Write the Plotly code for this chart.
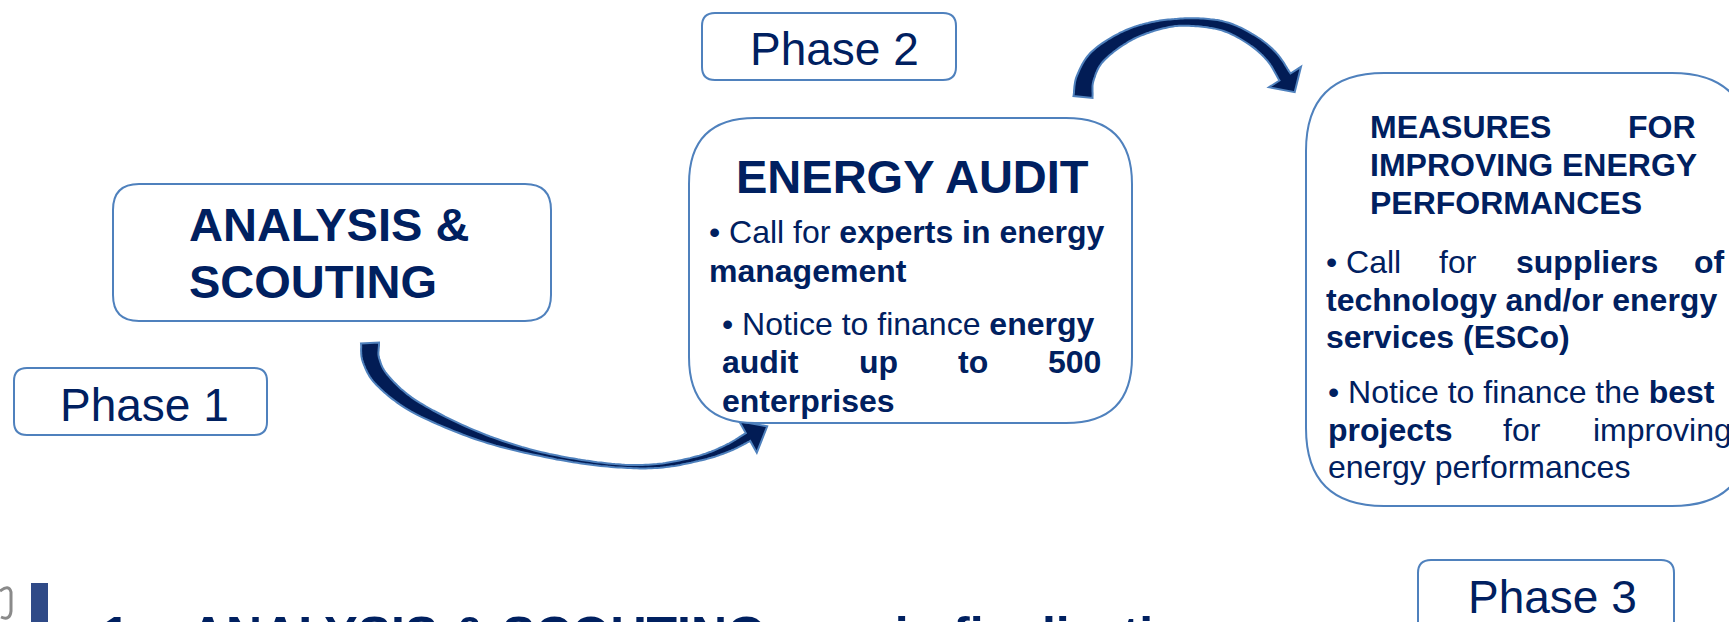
import numpy as np
import plotly.graph_objects as go

# ---------------- content ----------------
phase_labels = ["Phase 1", "Phase 2", "Phase 3"]

analysis_title = ["<b>ANALYSIS &</b>", "<b>SCOUTING</b>"]
audit_title = "<b>ENERGY AUDIT</b>"
audit_lines = [
    ["• Call for <b>experts in energy</b>"],
    ["<b>management</b>"],
    ["• Notice to finance <b>energy</b>"],
    ["<b>audit</b>", "<b>up</b>", "<b>to</b>", "<b>500</b>"],
    ["<b>enterprises</b>"],
]
measures_title = [
    ["<b>MEASURES</b>", "<b>FOR</b>"],
    ["<b>IMPROVING ENERGY</b>"],
    ["<b>PERFORMANCES</b>"],
]
measures_lines = [
    ["• Call", "for", "<b>suppliers</b>", "<b>of</b>"],
    ["<b>technology and/or energy</b>"],
    ["<b>services (ESCo)</b>"],
    ["• Notice to finance the <b>best</b>"],
    ["<b>projects</b>", "for", "improving"],
    ["energy performances"],
]
footer_number = "<b>1.</b>"
footer_text = "<b>ANALYSIS & SCOUTING</b>"
footer_tail = "<b>– in finalization</b>"

# ---------------- style ----------------
W, H = 1729, 622
NAVY = "#002060"
BORDER = "#4f81bd"
ARROW_FILL = "#021c55"
FONT = "Liberation Sans, Arial, sans-serif"

fig = go.Figure()
fig.add_trace(go.Scatter(x=[], y=[], showlegend=False))


def rrect(x0, y0, x1, y1, r):
    return (f"M{x0+r},{y0} L{x1-r},{y0} Q{x1},{y0} {x1},{y0+r} "
            f"L{x1},{y1-r} Q{x1},{y1} {x1-r},{y1} L{x0+r},{y1} "
            f"Q{x0},{y1} {x0},{y1-r} L{x0},{y0+r} Q{x0},{y0} {x0+r},{y0} Z")


def add_box(x0, y0, x1, y1, r):
    fig.add_shape(type="path", path=rrect(x0, y0, x1, y1, r), xref="x", yref="y",
                  line=dict(color=BORDER, width=2), fillcolor="white", layer="above")


def catmull(pts, n=16):
    P = np.array(pts, float)
    P = np.vstack([P[0] * 2 - P[1], P, P[-1] * 2 - P[-2]])
    out = []
    for i in range(1, len(P) - 2):
        p0, p1, p2, p3 = P[i - 1], P[i], P[i + 1], P[i + 2]
        for t in np.linspace(0, 1, n, endpoint=False):
            t2, t3 = t * t, t * t * t
            out.append(0.5 * ((2 * p1) + (-p0 + p2) * t + (2 * p0 - 5 * p1 + 4 * p2 - p3) * t2
                              + (-p0 + 3 * p1 - 3 * p2 + p3) * t3))
    out.append(P[-2])
    return np.array(out)


def add_arrow(center, ws, ww, head_len, head_half):
    C = catmull(center)
    seg = np.diff(C, axis=0)
    L = np.concatenate([[0], np.cumsum(np.hypot(seg[:, 0], seg[:, 1]))])
    s = L / L[-1]
    tang = np.gradient(C, axis=0)
    tang /= np.hypot(tang[:, 0], tang[:, 1])[:, None]
    nrm = np.stack([-tang[:, 1], tang[:, 0]], 1)
    w = np.interp(s, ws, ww)
    left = C + nrm * w[:, None] / 2
    right = C - nrm * w[:, None] / 2
    end, d, n = C[-1], tang[-1], nrm[-1]
    tip = end + d * head_len
    b1 = end + n * head_half
    b2 = end - n * head_half
    pts = list(left) + [b1, tip, b2] + list(right[::-1])
    path = "M" + " L".join(f"{p[0]:.1f},{p[1]:.1f}" for p in pts) + " Z"
    fig.add_shape(type="path", path=path, xref="x", yref="y",
                  line=dict(color=BORDER, width=2), fillcolor=ARROW_FILL, layer="above")


def add_text(txt, x, y, size, anchor="left", ref="data"):
    if ref == "data":
        kw = dict(x=x, y=y, xref="x", yref="y")
    else:
        kw = dict(x=x / W, y=1 - y / H, xref="paper", yref="paper")
    fig.add_annotation(text=txt, showarrow=False, xanchor=anchor, yanchor="middle",
                       font=dict(family=FONT, size=size, color=NAVY), **kw)


# ---------------- arrows ----------------
add_arrow([(370, 343), (371, 360), (383, 381), (417, 408), (481, 437), (545, 455),
           (608, 465), (657, 466), (700, 458), (728, 448), (748, 437)],
          [0, 0.15, 0.5, 0.7, 0.88, 1], [18, 13, 4, 3, 5, 9], 22, 18)
add_arrow([(1083, 97), (1085, 79), (1097, 57), (1125, 37), (1155, 26), (1187, 22),
           (1223, 26), (1252, 40), (1272, 57), (1285, 77)],
          [0, 0.5, 1], [19, 7, 13], 18, 19)

# ---------------- boxes ----------------
add_box(113, 184, 551, 321, 26)
add_box(14, 368, 267, 435, 13)
add_box(702, 13, 956, 80, 13)
add_box(689, 118, 1132, 423, 66)
add_box(1306, 73, 1750, 506, 78)
add_box(1418, 560, 1674, 650, 13)

# footer decorations
fig.add_shape(type="rect", x0=31, x1=48, y0=583, y1=630, xref="x", yref="y",
              fillcolor="#2f4a87", line=dict(width=0), layer="above")
fig.add_shape(type="path", path="M0,591 Q9,584 11,592 L11,611 Q10,621 1,617",
              xref="x", yref="y", line=dict(color="#8a8a8a", width=3), layer="above")

# ---------------- text ----------------
add_text(phase_labels[0], 144, 405, 46, "center")
add_text(phase_labels[1], 834, 49, 46, "center")
add_text(phase_labels[2], 1552, 597, 46, "center")

add_text(analysis_title[0], 187, 224, 47)
add_text(analysis_title[1], 187, 281, 47)

add_text(audit_title, 912, 176, 47, "center")
audit_mid = [231.5, 270.5, 323.5, 361.5, 400.5]
audit_pos = [
    [(707, "left")],
    [(707, "left")],
    [(720, "left")],
    [(720, "left"), (878, "center"), (973, "center"), (1103, "right")],
    [(720, "left")],
]
for line, y, pos in zip(audit_lines, audit_mid, audit_pos):
    for word, (x, a) in zip(line, pos):
        add_text(word, x, y, 32, a)

mt_mid = [126.5, 164.5, 202.5]
mt_pos = [[(1368, "left"), (1698, "right")], [(1368, "left")], [(1368, "left")]]
for line, y, pos in zip(measures_title, mt_mid, mt_pos):
    for word, (x, a) in zip(line, pos):
        add_text(word, x, y, 32, a)

ml_mid = [261.5, 299.5, 336.5, 391.5, 429.5, 466.5]
ml_pos = [
    [(1324, "left"), (1458, "center"), (1587, "center"), (1727, "right")],
    [(1324, "left")],
    [(1324, "left")],
    [(1326, "left")],
    [(1326, "left"), (1522, "center"), (1591, "left")],
    [(1326, "left")],
]
for line, y, pos in zip(measures_lines, ml_mid, ml_pos):
    for word, (x, a) in zip(line, pos):
        add_text(word, x, y, 32, a)

add_text(footer_number, 100, 635, 50, "left", ref="paper")
add_text(footer_text, 188, 635, 50, "left", ref="paper")
add_text(footer_tail, 851, 635, 50, "left", ref="paper")

fig.update_layout(
    width=W, height=H, autosize=False,
    margin=dict(l=0, r=0, t=0, b=0),
    paper_bgcolor="white", plot_bgcolor="white",
    xaxis=dict(range=[0, W], visible=False, fixedrange=True),
    yaxis=dict(range=[H, 0], visible=False, fixedrange=True),
    showlegend=False,
)
fig.write_html("out.html", config={"displayModeBar": False},
               post_script="document.body.style.margin='0';document.body.style.overflow='hidden';")
